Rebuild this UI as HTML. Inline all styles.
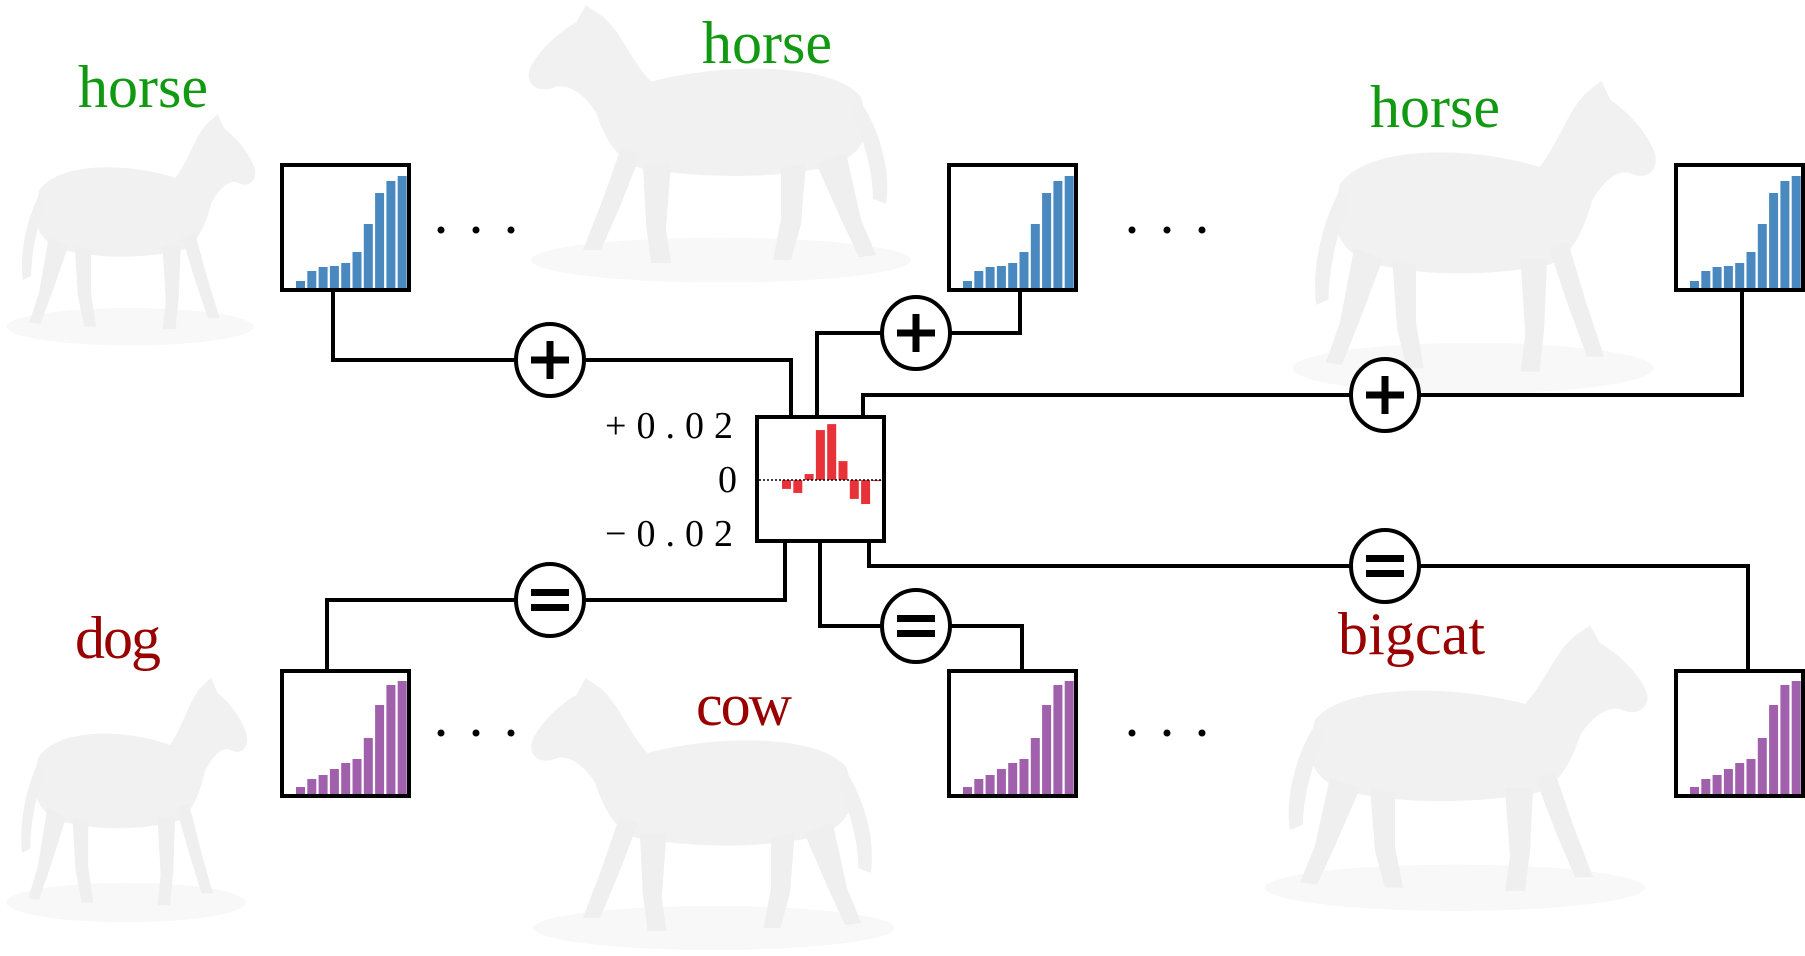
<!DOCTYPE html>
<html><head><meta charset="utf-8">
<style>
html,body{margin:0;padding:0;background:#fff;}
svg{display:block;}
</style></head>
<body>
<svg id="fig" width="1805" height="956" viewBox="0 0 1805 956" xmlns="http://www.w3.org/2000/svg">
<defs>
<g id="animal">
  <ellipse cx="200" cy="255" rx="190" ry="22" fill="#f8f8f8"/>
  <path d="M60,95 C90,60 200,62 270,80 C290,60 300,30 320,15 L335,5 L345,22 C360,30 385,50 392,70 C395,85 380,92 365,85 C350,82 335,95 325,110 C315,140 300,160 280,165 C220,175 150,175 100,165 C70,160 50,140 55,115 Z" fill="#f1f1f1"/>
  <path d="M75,150 L60,215 L45,250 L62,252 L80,215 L105,160 Z" fill="#efefef"/>
  <path d="M115,160 L120,220 L130,255 L148,255 L140,215 L140,165 Z" fill="#efefef"/>
  <path d="M250,160 L255,225 L250,258 L270,258 L275,220 L278,160 Z" fill="#efefef"/>
  <path d="M280,150 L300,200 L320,245 L338,245 L318,195 L300,145 Z" fill="#efefef"/>
  <path d="M60,100 C40,130 30,170 35,200 L48,195 C48,165 60,130 70,110 Z" fill="#f0f0f0"/>
</g>
</defs>

<g>
  <use href="#animal" transform="translate(0,110) scale(0.65,0.85)"/>
  <use href="#animal" transform="translate(921,0) scale(-1,1.02)"/>
  <use href="#animal" transform="translate(1283,75) scale(0.95,1.15)"/>
  <use href="#animal" transform="translate(0,673) scale(0.63,0.9)"/>
  <use href="#animal" transform="translate(904,673) scale(-0.95,1.0)"/>
  <use href="#animal" transform="translate(1255,620) scale(1.0,1.05)"/>
</g>

<g font-family="Liberation Serif, serif" font-size="60">
  <text x="78" y="107" fill="#119911" textLength="130">horse</text>
  <text x="702" y="63" fill="#119911" textLength="130">horse</text>
  <text x="1370" y="127" fill="#119911" textLength="130">horse</text>
  <text x="75" y="658" fill="#990000" textLength="86">dog</text>
  <text x="696" y="725" fill="#990000" textLength="96">cow</text>
  <text x="1338" y="654" fill="#990000" textLength="147">bigcat</text>
</g>

<g fill="#000">
  <circle cx="441" cy="230" r="3.5"/><circle cx="476" cy="230" r="3.5"/><circle cx="511" cy="230" r="3.5"/>
  <circle cx="1132" cy="230" r="3.5"/><circle cx="1167" cy="230" r="3.5"/><circle cx="1202" cy="230" r="3.5"/>
  <circle cx="441" cy="733" r="3.5"/><circle cx="476" cy="733" r="3.5"/><circle cx="511" cy="733" r="3.5"/>
  <circle cx="1132" cy="733" r="3.5"/><circle cx="1167" cy="733" r="3.5"/><circle cx="1202" cy="733" r="3.5"/>
</g>

<g fill="none" stroke="#000" stroke-width="4">
  <polyline points="333,290 333,360 791,360 791,417"/>
  <polyline points="817,417 817,333 1020,333 1020,290"/>
  <polyline points="863,417 863,395 1742,395 1742,290"/>
  <polyline points="785,541 785,600 327,600 327,671"/>
  <polyline points="820,541 820,626 1022,626 1022,671"/>
  <polyline points="869,541 869,566 1748,566 1748,671"/>
</g>

<g id="ops"></g>
<g id="hists"></g>
<g id="diff"></g>
</svg>

<script>
// data
const blueHeights = [7, 17, 21, 22, 25, 36, 64, 95, 107, 112];
const purpleHeights = [7, 15, 19, 25, 31, 35, 56, 89, 109, 113];
const diffValues = [-0.0033, -0.0048, 0.0022, 0.0185, 0.0207, 0.007, -0.007, -0.0089, -0.0004];
const diffTickValues = [0.02, 0, -0.02];
const diffTickLabels = ["+0.02", "0", "\u22120.02"];

const NS = "http://www.w3.org/2000/svg";
function mk(tag, attrs, parent) {
  const e = document.createElementNS(NS, tag);
  for (const k in attrs) e.setAttribute(k, attrs[k]);
  parent.appendChild(e);
  return e;
}

// operators
const ops = document.getElementById('ops');
const opDefs = [[550,360,'+'],[916,333,'+'],[1385,395,'+'],[550,600,'='],[916,626,'='],[1385,566,'=']];
opDefs.forEach(function(o) {
  const g = mk('g', {}, ops);
  
  
  mk('ellipse', {cx:o[0], cy:o[1], rx:34, ry:36, fill:'#fff', stroke:'#000', 'stroke-width':4}, g);
  if (o[2] === '+') {
    mk('rect', {x:o[0]-19, y:o[1]-3.5, width:38, height:7, fill:'#000'}, g);
    mk('rect', {x:o[0]-3.5, y:o[1]-19, width:7, height:38, fill:'#000'}, g);
  } else {
    mk('rect', {x:o[0]-19, y:o[1]-11, width:38, height:7, fill:'#000'}, g);
    mk('rect', {x:o[0]-19, y:o[1]+4, width:38, height:7, fill:'#000'}, g);
  }
});

// histograms
const hists = document.getElementById('hists');
const boxes = [[282,165,blueHeights,'#4a89c0'],[949,165,blueHeights,'#4a89c0'],[1676,165,blueHeights,'#4a89c0'],
               [282,671,purpleHeights,'#a060ac'],[949,671,purpleHeights,'#a060ac'],[1676,671,purpleHeights,'#a060ac']];
const BW = 127, BH = 125, MAXH = 125;
boxes.forEach(function(b, bi) {
  const g = mk('g', {}, hists);
  
  
  mk('rect', {x:b[0], y:b[1], width:BW, height:BH, fill:'#fff', stroke:'#000', 'stroke-width':4}, g);
  const base = b[1] + BH - 2;
  const yScale = function(v) { return v / MAXH * BH; };
  const xScale = function(i) { return b[0] + 14 + i * 11.3; };
  b[2].forEach(function(v, i) {
    const h = yScale(v);
    const r = mk('rect', {x:xScale(i), y:base - h, width:9, height:h, fill:b[3]}, g);
    
    
  });
});

// difference chart
const diff = document.getElementById('diff');
const DX = 757, DY = 417, DW = 127, DH = 124, ZERO = 480, PX_PER = 54 / 0.02;
const dy = function(v) { return ZERO - v * PX_PER; };
const dx = function(i) { return DX + 25 + i * 11.3; };
mk('rect', {x:DX, y:DY, width:DW, height:DH, fill:'#fff', stroke:'#000', 'stroke-width':4}, diff);
diffValues.forEach(function(v, i) {
  const y0 = Math.min(dy(v), ZERO), h = Math.abs(dy(v) - ZERO);
  const r = mk('rect', {x:dx(i), y:y0, width:9, height:Math.max(h, 1), fill:'#e8323a'}, diff);
  
  
});
const zl = mk('line', {x1:DX+2, x2:DX+DW-2, y1:ZERO, y2:ZERO, stroke:'#000', 'stroke-width':1.5, 'stroke-dasharray':'2,2'}, diff);


diffTickValues.forEach(function(v, i) {
  const lbl = diffTickLabels[i];
  const t = mk('text', {x:737, y:dy(v) + 12, 'text-anchor':'end', 'font-family':'Liberation Serif, serif', 'font-size':38, fill:'#000'}, diff);
  if (lbl.length > 1) { t.setAttribute('textLength', 128); t.setAttribute('x', 605); t.setAttribute('text-anchor', 'start'); }
  t.textContent = lbl;
  
  
});
</script>
</body></html>
